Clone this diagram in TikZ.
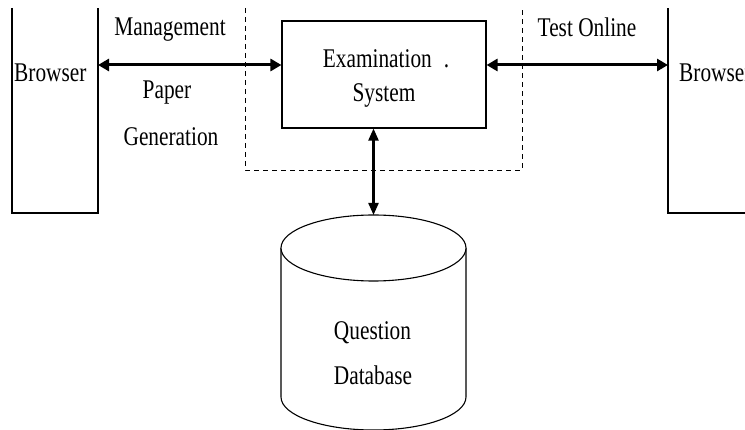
\documentclass[tikz,border=0pt]{standalone}
\usepackage{fontspec}
\setmainfont[FakeStretch=0.79]{Liberation Serif}
\usetikzlibrary{arrows.meta}

\begin{document}
\begin{tikzpicture}[x=1pt,y=-1pt,
		lbl/.style={font=\fontsize{27}{32}\selectfont, inner sep=0pt, anchor=base},
		wall/.style={line width=1.1pt},
		biarrow/.style={{Triangle[length=11pt,width=12pt]}-{Triangle[length=11pt,width=12pt]}, line width=3pt},
		uparrow/.style={{Triangle[length=12pt,width=10pt]}-{Triangle[length=12pt,width=10pt]}, line width=2.2pt}]
		\useasboundingbox (0,0) rectangle (745,430);
		\clip (0,0) rectangle (745,430);
		% browsers, open at the top
		\draw[wall] (12,8) -- (12,213) -- (98,213) -- (98,8);
		\draw[wall] (760,213) -- (668,213) -- (668,8);
		\coordinate (lbr) at (98,65);
		\coordinate (rbr) at (668,65);
		\node[lbl, anchor=base west] (lbrowser) at (14,82) {Browser};
		\node[lbl, anchor=base west] (rbrowser) at (679,82) {Browser};
		% system boundary
		\draw[dashed, line width=0.9pt, dash pattern=on 5pt off 4pt] (245,8) -- (245,170) -- (522,170) -- (522,8);
		% examination system
		\node[draw, wall, minimum width=204pt, minimum height=107pt, inner sep=0pt] (exam) at (384,74.5) {};
		\node[lbl] (examA) at (386,68) {Examination\hspace{12pt}.};
		\node[lbl] (examB) at (384,102) {System};
		% database
		\draw[wall] (281,248) -- (281,397) arc[start angle=180, end angle=0, x radius=92.5, y radius=33] -- (466,248);
		\draw[wall, fill=white] (373.5,248) ellipse [x radius=92.5, y radius=33];
		\coordinate (dbtop) at (373.5,215);
		\node[lbl] (dbA) at (372.5,340) {Question};
		\node[lbl] (dbB) at (373,385) {Database};
		% links
		\draw[biarrow] (lbr) -- (exam.west |- lbr);
		\draw[biarrow] (exam.east |- rbr) -- (rbr);
		\draw[uparrow] (exam.south -| dbtop) -- (dbtop);
		\node[lbl] (mgmt) at (170,36) {Management};
		\node[lbl] (paper) at (167,99) {Paper};
		\node[lbl] (gen) at (171,146) {Generation};
		\node[lbl] (online) at (587,37) {Test Online};
	\end{tikzpicture}
\end{document}
